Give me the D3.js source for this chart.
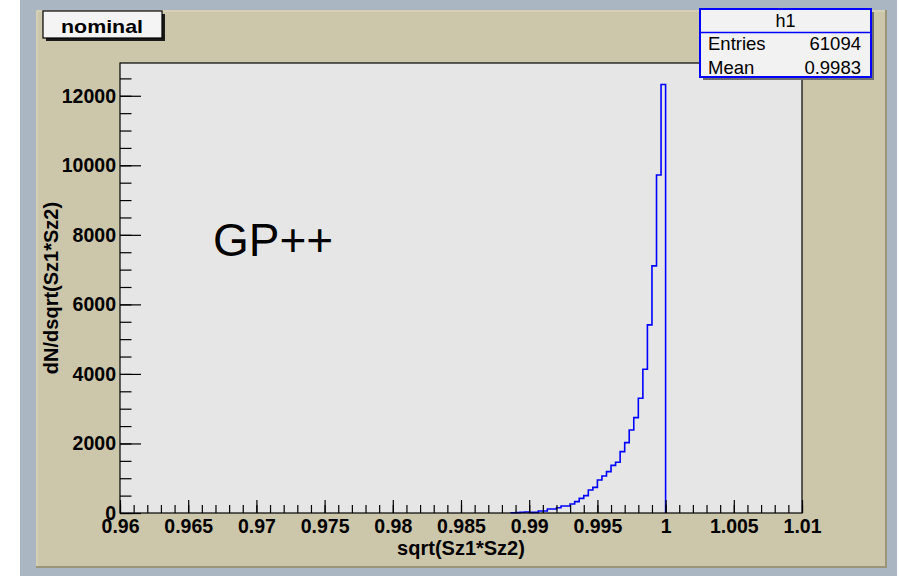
<!DOCTYPE html>
<html>
<head>
<meta charset="utf-8">
<script src="https://cdn.jsdelivr.net/npm/d3@7/dist/d3.min.js"></script>
<style>
  html, body { margin: 0; padding: 0; background: #ffffff; }
  svg { display: block; }
  text { font-family: "Liberation Sans", Arial, Helvetica, sans-serif; }
</style>
</head>
<body>
<svg id="chart" width="899" height="576"></svg>
<script>
// Histogram definition: 150 equal bins on [0.96, 1.01]
const nBins = 150;
const xMin = 0.96;
const xMax = 1.01;
// Index (0-based) of the first filled bin, then the bin contents from there on
const firstBin = 86;
const counts = [
  8, 12, 20, 30, 19, 19, 58, 58, 115, 115,
  153, 201, 201, 259, 326, 422, 499, 662, 738, 949,
  1064, 1189, 1371, 1458, 1765, 2024, 2388, 2743, 3299, 4136,
  5410, 7108, 9719, 12326
];

// Axis ticks and labels
const xMajorTicks = [0.96, 0.965, 0.97, 0.975, 0.98, 0.985, 0.99, 0.995, 1.0, 1.005, 1.01];
const xTickLabels = ["0.96", "0.965", "0.97", "0.975", "0.98", "0.985", "0.99", "0.995", "1", "1.005", "1.01"];
const xMinorStep = 0.001;
const yMajorTicks = [0, 2000, 4000, 6000, 8000, 10000, 12000];
const yTickLabels = ["0", "2000", "4000", "6000", "8000", "10000", "12000"];
const yMinorStep = 500;

const histTitle = "nominal";
const statsName = "h1";
const statsRows = [["Entries", "61094"], ["Mean", "0.9983"]];
const xTitle = "sqrt(Sz1*Sz2)";
const yTitle = "dN/dsqrt(Sz1*Sz2)";
const annotation = "GP++";

const svg = d3.select("#chart");

// Canvas and pad backgrounds
svg.append("rect").attr("x", 20).attr("y", 0).attr("width", 877).attr("height", 576).attr("fill", "#aab7c3");
svg.append("rect").attr("x", 36).attr("y", 10).attr("width", 850).attr("height", 558).attr("fill", "#ccc6aa");
// pad bevel
svg.append("path").attr("d", "M36,567 L886,567 L886,10").attr("fill", "none").attr("stroke", "#9c9478").attr("stroke-width", 2);
svg.append("path").attr("d", "M37,566 L37,11 L885,11").attr("fill", "none").attr("stroke", "#ddd8c0").attr("stroke-width", 1);

// Frame
const frame = { left: 120, right: 802, top: 63, bottom: 513 };
const binWidth = (xMax - xMin) / nBins;
const yTop = d3.max(counts) * 1.05;

const x = d3.scaleLinear().domain([xMin, xMax]).range([frame.left, frame.right]);
const y = d3.scaleLinear().domain([0, yTop]).range([frame.bottom, frame.top]);

svg.append("rect")
  .attr("x", frame.left).attr("y", frame.top)
  .attr("width", frame.right - frame.left).attr("height", frame.bottom - frame.top)
  .attr("fill", "#e6e6e6");

svg.append("clipPath").attr("id", "frameClip")
  .append("rect")
  .attr("x", frame.left).attr("y", frame.top - 2)
  .attr("width", frame.right - frame.left).attr("height", frame.bottom - frame.top + 4);

// Histogram outline (step line)
const pts = [];
const lo0 = xMin + firstBin * binWidth;
pts.push([lo0, 0]);
counts.forEach((c, i) => {
  const lo = xMin + (firstBin + i) * binWidth;
  const hi = lo + binWidth;
  pts.push([lo, c]);
  pts.push([hi, c]);
});
pts.push([xMin + (firstBin + counts.length) * binWidth, 0]);

const line = d3.line().x(d => x(d[0])).y(d => y(d[1]));
svg.append("path")
  .attr("clip-path", "url(#frameClip)")
  .attr("d", line(pts))
  .attr("fill", "none")
  .attr("stroke", "#0000ff")
  .attr("stroke-width", 1.6)
  .attr("stroke-linejoin", "miter");

// Axes
const tickFont = 19.5;
const xMinor = d3.range(0, Math.round((xMax - xMin) / xMinorStep) + 1).map(i => xMin + i * xMinorStep);
const yMinor = d3.range(0, Math.floor(yTop / yMinorStep) + 1).map(i => i * yMinorStep);

const xAxisMinor = svg.append("g").attr("transform", `translate(0,${frame.bottom})`)
  .call(d3.axisBottom(x).tickValues(xMinor).tickSize(-8).tickFormat(""));
const xAxis = svg.append("g").attr("transform", `translate(0,${frame.bottom})`)
  .call(d3.axisBottom(x).tickValues(xMajorTicks).tickSize(-13).tickPadding(6)
    .tickFormat((d, i) => xTickLabels[i]));

const yAxisMinor = svg.append("g").attr("transform", `translate(${frame.left},0)`)
  .call(d3.axisLeft(y).tickValues(yMinor).tickSize(-11.5).tickFormat(""));
const yAxis = svg.append("g").attr("transform", `translate(${frame.left},0)`)
  .call(d3.axisLeft(y).tickValues(yMajorTicks).tickSize(-21).tickPadding(4)
    .tickFormat((d, i) => yTickLabels[i]));

[xAxisMinor, xAxis, yAxisMinor, yAxis].forEach(g => {
  g.select(".domain").remove();
  g.selectAll(".tick line").attr("stroke", "#000").attr("stroke-width", 1.2);
  g.selectAll(".tick text")
    .attr("fill", "#000")
    .style("font-family", "'Liberation Sans', Arial, sans-serif")
    .style("font-weight", "bold")
    .style("font-size", tickFont + "px");
});

// Frame border
svg.append("rect")
  .attr("x", frame.left).attr("y", frame.top)
  .attr("width", frame.right - frame.left).attr("height", frame.bottom - frame.top)
  .attr("fill", "none").attr("stroke", "#000").attr("stroke-width", 1.2);

// Axis titles
svg.append("text")
  .attr("x", (frame.left + frame.right) / 2).attr("y", 555)
  .attr("text-anchor", "middle")
  .style("font-weight", "bold").style("font-size", "20px")
  .text(xTitle);

svg.append("text")
  .attr("transform", `translate(58,${(frame.top + frame.bottom) / 2}) rotate(-90)`)
  .attr("text-anchor", "middle")
  .style("font-weight", "bold").style("font-size", "20px")
  .text(yTitle);

// Annotation inside the frame
svg.append("text")
  .attr("x", 213).attr("y", 256)
  .style("font-size", "46px")
  .attr("fill", "#000")
  .text(annotation);

// Title box
svg.append("rect").attr("x", 46).attr("y", 14).attr("width", 119).attr("height", 27).attr("fill", "#1a1a1a");
svg.append("rect").attr("x", 43).attr("y", 11).attr("width", 119).attr("height", 27)
  .attr("fill", "#f4f4f4").attr("stroke", "#000").attr("stroke-width", 1.2);
svg.append("text")
  .attr("x", 102).attr("y", 33)
  .attr("text-anchor", "middle")
  .attr("textLength", 82).attr("lengthAdjust", "spacingAndGlyphs")
  .style("font-weight", "bold").style("font-size", "19px")
  .text(histTitle);

// Statistics box
const sb = { x: 700, y: 9, w: 171, h: 68 };
svg.append("rect").attr("x", sb.x + 3).attr("y", sb.y + 3).attr("width", sb.w).attr("height", sb.h).attr("fill", "#6e6e6e");
svg.append("rect").attr("x", sb.x).attr("y", sb.y).attr("width", sb.w).attr("height", sb.h)
  .attr("fill", "#f2f2f2").attr("stroke", "#0000ff").attr("stroke-width", 2);
svg.append("line").attr("x1", sb.x).attr("x2", sb.x + sb.w).attr("y1", 32.5).attr("y2", 32.5)
  .attr("stroke", "#0000ff").attr("stroke-width", 1.5);
svg.append("text").attr("x", sb.x + sb.w / 2).attr("y", 27)
  .attr("text-anchor", "middle").style("font-size", "18px").text(statsName);
statsRows.forEach((r, i) => {
  const by = 50 + i * 24;
  svg.append("text").attr("x", 708).attr("y", by).style("font-size", "18.5px").text(r[0]);
  svg.append("text").attr("x", 861).attr("y", by).attr("text-anchor", "end").style("font-size", "18.5px").text(r[1]);
});
</script>
</body>
</html>
